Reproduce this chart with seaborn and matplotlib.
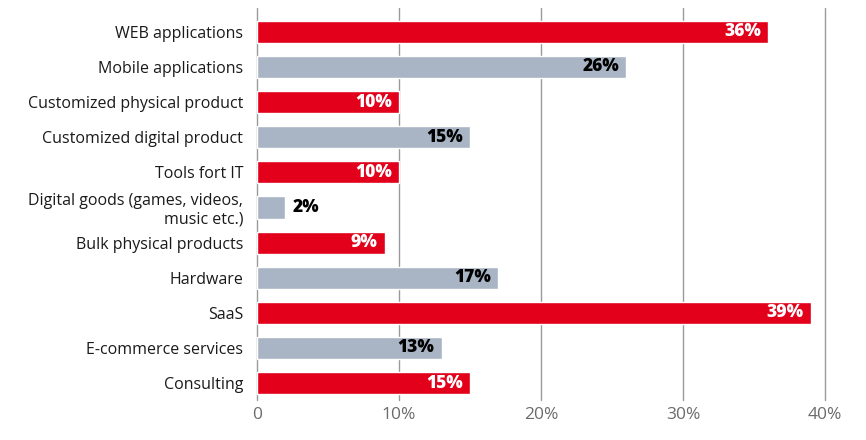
"""Horizontal bar chart: share of project types."""

import matplotlib
matplotlib.use("Agg")
import matplotlib.pyplot as plt
import seaborn as sns

categories = [
    "WEB applications",
    "Mobile applications",
    "Customized physical product",
    "Customized digital product",
    "Tools fort IT",
    "Digital goods (games, videos,\nmusic etc.)",
    "Bulk physical products",
    "Hardware",
    "SaaS",
    "E-commerce services",
    "Consulting",
]
values = [36, 26, 10, 15, 10, 2, 9, 17, 39, 13, 15]
x_ticks = [0, 10, 20, 30, 40]
x_ticklabels = ["0", "10%", "20%", "30%", "40%"]

RED = "#E2001A"
GRAY = "#A9B5C4"
bar_colors = [RED if i % 2 == 0 else GRAY for i in range(len(categories))]

sns.set_style("white")
plt.rcParams["font.family"] = ["Open Sans", "DejaVu Sans"]

fig = plt.figure(figsize=(8.66, 4.4), dpi=100)
ax = fig.add_axes([0.2968, 0.091, 0.6559, 0.891])

sns.barplot(
    x=values,
    y=categories,
    hue=categories,
    palette=bar_colors,
    legend=False,
    width=0.63,
    saturation=1,
    ax=ax,
    zorder=3,
)

ax.set_xlim(0, 40)
ax.set_ylim(10.48, -0.68)
ax.set_xticks(x_ticks)
ax.set_xticklabels(x_ticklabels, fontsize=12.5, color="#6b6b6b")
ax.tick_params(axis="x", length=0, pad=5)
ax.tick_params(axis="y", length=0, pad=10, labelsize=11.5, labelcolor="#1a1a1a")
for xv in x_ticks:
    ax.axvline(xv, color="#9a9a9a", lw=1, zorder=1, clip_on=False)
for s in ax.spines.values():
    s.set_visible(False)
ax.set_xlabel("")
ax.set_ylabel("")

# value labels
for i, v in enumerate(values):
    label = f"{v}%"
    if v < 5:
        ax.text(v + 0.5, i, label, ha="left", va="center",
                fontsize=12.5, fontweight="heavy", color="black", zorder=4)
    else:
        txt_color = "white" if bar_colors[i] == RED else "black"
        ax.text(v - 0.5, i, label, ha="right", va="center",
                fontsize=12.5, fontweight="heavy", color=txt_color, zorder=4)

fig.savefig("out.png", dpi=100)
